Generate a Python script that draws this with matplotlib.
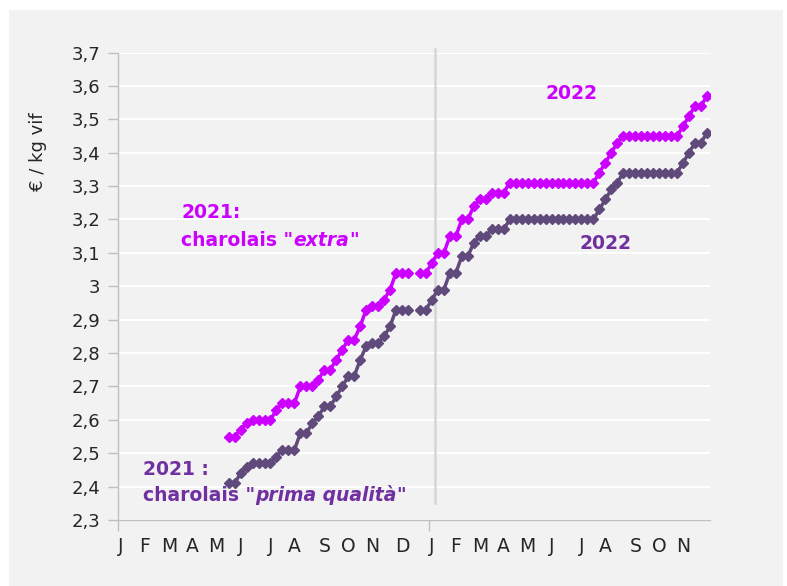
import numpy as np
import matplotlib.pyplot as plt
from matplotlib.patches import Rectangle

# weekly prices in EUR / kg live weight
# 2021 series start at week 19 (week 50 missing), 2022 series cover weeks 1..47
first_week_2021 = 19
weeks_in_2021 = 52

extra_2021 = [2.55, 2.55, 2.57, 2.59, 2.60, 2.60, 2.60, 2.60, 2.63, 2.65,
              2.65, 2.65, 2.70, 2.70, 2.70, 2.72, 2.75, 2.75, 2.78, 2.81,
              2.84, 2.84, 2.88, 2.93, 2.94, 2.94, 2.96, 2.99, 3.04, 3.04,
              3.04, None, 3.04, 3.04]
extra_2022 = [3.07, 3.10, 3.10, 3.15, 3.15, 3.20, 3.20, 3.24, 3.26, 3.26,
              3.28, 3.28, 3.28, 3.31, 3.31, 3.31, 3.31, 3.31, 3.31, 3.31,
              3.31, 3.31, 3.31, 3.31, 3.31, 3.31, 3.31, 3.31, 3.34, 3.37,
              3.40, 3.43, 3.45, 3.45, 3.45, 3.45, 3.45, 3.45, 3.45, 3.45,
              3.45, 3.45, 3.48, 3.51, 3.54, 3.54, 3.57]

prima_2021 = [2.41, 2.41, 2.44, 2.46, 2.47, 2.47, 2.47, 2.47, 2.49, 2.51,
              2.51, 2.51, 2.56, 2.56, 2.59, 2.61, 2.64, 2.64, 2.67, 2.70,
              2.73, 2.73, 2.78, 2.82, 2.83, 2.83, 2.85, 2.88, 2.93, 2.93,
              2.93, None, 2.93, 2.93]
prima_2022 = [2.96, 2.99, 2.99, 3.04, 3.04, 3.09, 3.09, 3.13, 3.15, 3.15,
              3.17, 3.17, 3.17, 3.20, 3.20, 3.20, 3.20, 3.20, 3.20, 3.20,
              3.20, 3.20, 3.20, 3.20, 3.20, 3.20, 3.20, 3.20, 3.23, 3.26,
              3.29, 3.31, 3.34, 3.34, 3.34, 3.34, 3.34, 3.34, 3.34, 3.34,
              3.34, 3.34, 3.37, 3.40, 3.43, 3.43, 3.46]

month_letters = ["J", "F", "M", "A", "M", "J", "J", "A", "S", "O", "N", "D"]
month_label_week = [1, 5, 9, 13, 17, 21, 26, 30, 35, 39, 43, 48]

y_ticks = [2.3, 2.4, 2.5, 2.6, 2.7, 2.8, 2.9, 3.0, 3.1, 3.2, 3.3, 3.4, 3.5, 3.6, 3.7]
y_tick_labels = ["2,3", "2,4", "2,5", "2,6", "2,7", "2,8", "2,9", "3",
                 "3,1", "3,2", "3,3", "3,4", "3,5", "3,6", "3,7"]

MAGENTA = "#CC00FF"
PURPLE_LINE = "#604A7B"
PURPLE_TEXT = "#7030A0"
AXIS_GREY = "#BFBFBF"

n_weeks = weeks_in_2021 + len(extra_2022)
x = np.arange(n_weeks)


def full_series(v2021, v2022):
    y = np.full(n_weeks, np.nan)
    y[first_week_2021 - 1:weeks_in_2021] = [np.nan if v is None else v for v in v2021]
    y[weeks_in_2021:] = v2022
    return y


extra = full_series(extra_2021, extra_2022)
prima = full_series(prima_2021, prima_2022)

plt.rcParams["font.family"] = "DejaVu Sans"

W, H = 787, 586
fig = plt.figure(figsize=(W / 100, H / 100), dpi=100, facecolor="white")
fig.patches.append(Rectangle((9 / W, 0), (783 - 9) / W, 1 - 10 / H,
                             transform=fig.transFigure, facecolor="#F2F2F2",
                             edgecolor="none", zorder=-10))

ax = fig.add_axes([118 / W, 1 - 520 / H, (710 - 118) / W, (520 - 52.5) / H])
ax.set_facecolor("none")

ax.plot(x, extra, color=MAGENTA, lw=2.5, marker="D", ms=4.8, zorder=3)
ax.plot(x, prima, color=PURPLE_LINE, lw=2.5, marker="D", ms=4.8, zorder=3)

# separator between the two years
ax.axvline(52.5, ymin=0.036, ymax=1.007, color="#D6D6D6", lw=1.8,
           clip_on=False, zorder=2)

ax.set_xlim(-0.5, n_weeks - 0.5)
ax.set_ylim(2.3, 3.7)

ax.set_yticks(y_ticks, y_tick_labels)
ax.yaxis.grid(True, color="white", lw=1.5)
ax.set_axisbelow(True)

# year boundaries as the only tick marks, month letters as labels
ax.set_xticks([-0.5, weeks_in_2021 - 0.5])
ax.tick_params(axis="x", which="major", length=8, width=1, color=AXIS_GREY,
               labelbottom=False)
pos = [w - 1 for w in month_label_week] + [weeks_in_2021 + w - 1 for w in month_label_week[:11]]
labels = month_letters + month_letters[:11]
ax.set_xticks(pos, labels, minor=True)
ax.tick_params(axis="x", which="minor", length=0, pad=12, labelsize=13.5,
               labelcolor="#262626")
ax.tick_params(axis="y", length=7, width=1, color=AXIS_GREY, pad=6,
               labelsize=13, labelcolor="#262626")

for s in ["top", "right"]:
    ax.spines[s].set_visible(False)
for s in ["left", "bottom"]:
    ax.spines[s].set_color(AXIS_GREY)
    ax.spines[s].set_linewidth(1)

fig.text(38 / W, 1 - 152 / H, "€ / kg vif", rotation=90, ha="center",
         va="center", fontsize=13, color="#262626")

bold = dict(fontsize=13.5, fontweight="bold")


def mixed_text(x0, y0, parts, color):
    prev = None
    for txt, italic in parts:
        style = "italic" if italic else "normal"
        if prev is None:
            prev = ax.text(x0, y0, txt, color=color, style=style,
                           va="baseline", ha="left", **bold)
        else:
            prev = ax.annotate(txt, xy=(1, 0), xycoords=prev, color=color,
                               style=style, va="bottom", ha="left", **bold)


mixed_text(10.1, 3.205, [("2021:", False)], MAGENTA)
mixed_text(10.1, 3.12, [('charolais "', False), ("extra", True), ('"', False)], MAGENTA)
mixed_text(71.0, 3.562, [("2022", False)], MAGENTA)
mixed_text(76.7, 3.112, [("2022", False)], PURPLE_TEXT)
mixed_text(3.7, 2.436, [("2021 :", False)], PURPLE_TEXT)
mixed_text(3.7, 2.358, [('charolais "', False), ("prima qualità", True), ('"', False)], PURPLE_TEXT)

fig.savefig("out.png", dpi=100, facecolor="white")
